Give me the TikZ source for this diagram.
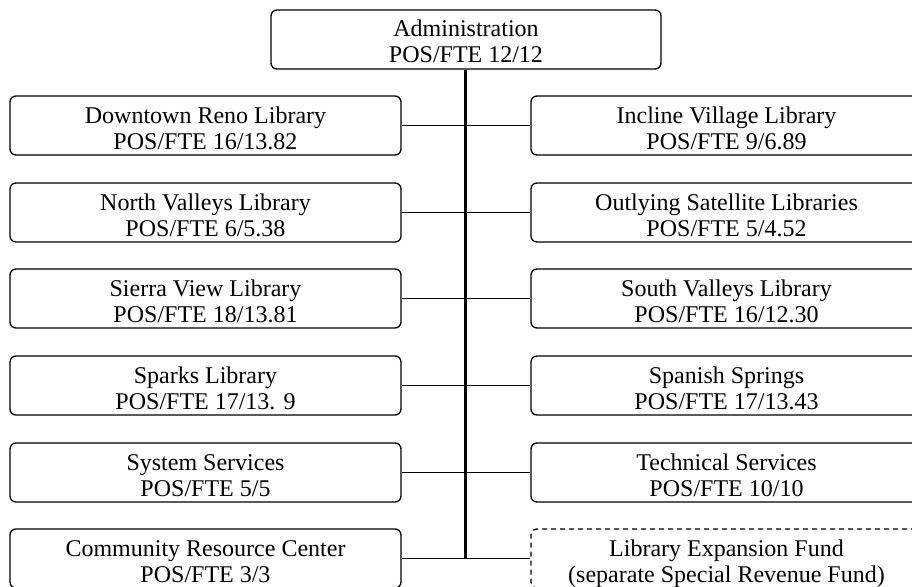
\documentclass[tikz,border=0pt]{standalone}
\usepackage{fontspec}
\setmainfont{Liberation Serif}
\begin{document}
\begin{tikzpicture}[x=1pt,y=-1pt,
  unit/.style={draw=black, line width=1.3pt, rounded corners=6pt, minimum width=391pt, minimum height=57pt, inner sep=0pt, align=center, font=\fontsize{24}{26}\selectfont, text height=53pt, text depth=6pt},
  fund/.style={unit, dash pattern=on 5pt off 4pt},
  trunk/.style={line width=2.6pt},
  link/.style={line width=1.3pt}]
\useasboundingbox (0,0) rectangle (912,586);
\clip (0,0) rectangle (912,586);
\fill[white] (0,0) rectangle (912,586);
\node[unit, minimum width=390pt] (adm) at (466,39.5) {Administration\\POS/FTE 12/12};
\node[unit] (l1) at (205.5,125.5) {Downtown Reno Library\\POS/FTE 16/13.82};
\node[unit] (l2) at (205.5,212.5) {North Valleys Library\\POS/FTE 6/5.38};
\node[unit] (l3) at (205.5,298.5) {Sierra View Library\\POS/FTE 18/13.81};
\node[unit] (l4) at (205.5,385.5) {Sparks Library\\POS/FTE 17/13. 9};
\node[unit] (l5) at (205.5,472.5) {System Services\\POS/FTE 5/5};
\node[unit] (l6) at (205.5,558.5) {Community Resource Center\\POS/FTE 3/3};
\node[unit] (r1) at (726.5,125.5) {Incline Village Library\\POS/FTE 9/6.89};
\node[unit] (r2) at (726.5,212.5) {Outlying Satellite Libraries\\POS/FTE 5/4.52};
\node[unit] (r3) at (726.5,298.5) {South Valleys Library\\POS/FTE 16/12.30};
\node[unit] (r4) at (726.5,385.5) {Spanish Springs\\POS/FTE 17/13.43};
\node[unit] (r5) at (726.5,472.5) {Technical Services\\POS/FTE 10/10};
\node[fund] (r6) at (726.5,558.5) {Library Expansion Fund\\(separate Special Revenue Fund)};
\coordinate (end) at (465.5,558.5);
\draw[trunk] (adm.south -| end) -- (end);
\foreach \n in {1,...,6}{
  \draw[link] (l\n.east) -- (l\n.east -| end) -- (r\n.west);
}
\end{tikzpicture}
\end{document}
